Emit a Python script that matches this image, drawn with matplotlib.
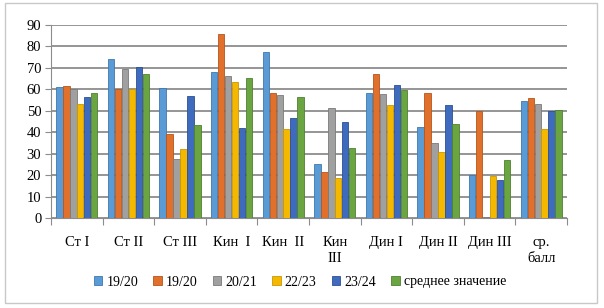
import numpy as np
import matplotlib.pyplot as plt
from matplotlib.patches import Rectangle

plt.rcParams['font.family'] = ['Liberation Serif', 'DejaVu Serif']

categories = ["Ст I", "Ст II", "Ст III", "Кин  I", "Кин  II", "Кин\nIII",
              "Дин I", "Дин II", "Дин III", "ср.\nбалл"]
series_names = ["19/20", "19/20", "20/21", "22/23", "23/24", "среднее значение"]
s1 = [61, 74, 60.5, 68, 77.5, 25, 58.5, 42.5, 20, 54.5]
s2 = [61.5, 60, 39, 86, 58.5, 21.5, 67, 58.5, 50, 56]
s3 = [60, 69.5, 27.5, 66, 57.5, 51.5, 58, 35, 0.5, 53]
s4 = [53, 60, 32, 63.5, 41.5, 18.5, 52.5, 31, 19.5, 41.5]
s5 = [56.5, 70.5, 57, 42, 46.5, 45, 62, 52.5, 17.5, 50]
s6 = [58.5, 67, 43.5, 65.5, 56.5, 32.5, 59.5, 44, 27, 50.5]
series = [s1, s2, s3, s4, s5, s6]
colors = ["#5B9BD5", "#E0702B", "#A0A0A0", "#F4B800", "#3F6BBF", "#6AA542"]
edges = ["#3E78AE", "#B5561C", "#7A7A7A", "#C99700", "#2D4F91", "#4E8130"]

fig = plt.figure(figsize=(6.04, 3.08), dpi=100)
fig.patches.append(Rectangle((5 / 604, 5 / 308), 592 / 604, 300 / 308,
                             transform=fig.transFigure, fill=False,
                             edgecolor="#C8C8C8", linewidth=1))
ax = fig.add_axes([51 / 604, 1 - 218 / 308, 516 / 604, 193 / 308])

x = np.arange(len(categories))
w = 0.135
for i, (vals, c, e) in enumerate(zip(series, colors, edges)):
    ax.bar(x + (i - 2.5) * w, vals, width=w * 0.92, color=c, edgecolor=e,
           linewidth=0.6, label=series_names[i], zorder=3)

ax.set_xlim(-0.5, len(categories) - 0.5)
ax.set_ylim(0, 90)
ax.set_yticks(range(0, 91, 10))
ax.yaxis.grid(True, color="#8C8C8C", linewidth=1.3, zorder=0)
ax.set_xticks(np.arange(-0.5, len(categories), 1), minor=False)
ax.set_xticklabels([])
ax.set_xticks(x, minor=True)
ax.set_xticklabels(categories, minor=True, fontsize=10.5, linespacing=1.25,
                   va="top")
ax.tick_params(axis="x", which="minor", length=0, pad=13)
ax.tick_params(axis="x", which="major", length=5, color="#8C8C8C", direction="out")
ax.tick_params(axis="y", labelsize=10.5, length=4, color="#8C8C8C", pad=3)
for s in ["top", "right"]:
    ax.spines[s].set_visible(False)
for s in ["left", "bottom"]:
    ax.spines[s].set_color("#8C8C8C")

fig.legend(loc="center", bbox_to_anchor=(300 / 604, 1 - 282 / 308), ncol=6,
           frameon=False, fontsize=10, handlelength=0.6, handleheight=0.6,
           handletextpad=0.3, columnspacing=1.1)

fig.savefig("out.png", dpi=100)
